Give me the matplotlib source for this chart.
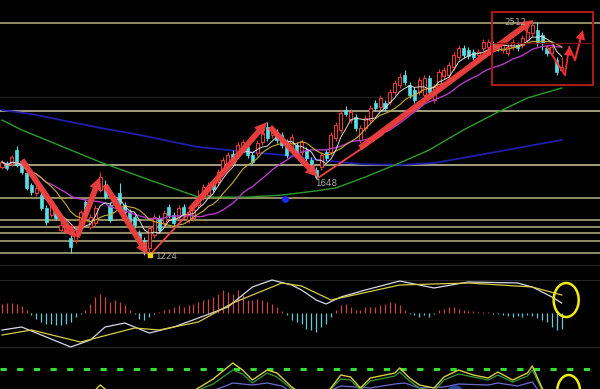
import numpy as np
import matplotlib
matplotlib.use("Agg")
import matplotlib.pyplot as plt
import pandas as pd
from matplotlib.patches import Rectangle, Ellipse, FancyArrowPatch, ArrowStyle

plt.rcParams['lines.scale_dashes'] = False

# ---------------- data ----------------
opens = [1706, 1728, 1722, 1799, 1728, 1673, 1607, 1563, 1552, 1481,
         1443, 1470, 1361, 1355, 1317, 1306, 1377, 1514, 1377, 1399,
         1580, 1607, 1498, 1498, 1563, 1498, 1459, 1432, 1344, 1306,
         1262, 1333, 1426, 1399, 1487, 1443, 1432, 1487, 1415, 1426,
         1498, 1541, 1552, 1607, 1624, 1689, 1717, 1777, 1772, 1810,
         1816, 1772, 1783, 1843, 1925, 1881, 1898, 1881, 1843, 1799,
         1826, 1788, 1799, 1744, 1689, 1706, 1788, 1788, 1865, 1909,
         2018, 1963, 1980, 1854, 1920, 1963, 2057, 2035, 2057, 2062,
         2117, 2155, 2210, 2155, 2128, 2117, 2100, 2194, 2073, 2139,
         2205, 2210, 2254, 2309, 2358, 2347, 2336, 2320, 2358, 2363,
         2380, 2374, 2347, 2331, 2363, 2374, 2374, 2402, 2440, 2457,
         2429, 2358, 2331, 2292, 2237]
closes = [1733, 1700, 1761, 1717, 1678, 1591, 1569, 1591, 1481, 1404,
          1509, 1426, 1388, 1383, 1267, 1361, 1459, 1443, 1432, 1481,
          1651, 1541, 1415, 1536, 1509, 1459, 1404, 1388, 1306, 1246,
          1372, 1432, 1361, 1454, 1443, 1399, 1481, 1443, 1459, 1470,
          1541, 1596, 1607, 1585, 1678, 1744, 1772, 1744, 1826, 1843,
          1772, 1733, 1837, 1892, 1865, 1909, 1854, 1826, 1772, 1870,
          1783, 1843, 1755, 1689, 1651, 1772, 1755, 1881, 1936, 2002,
          1996, 2007, 1920, 1920, 1974, 2029, 2029, 2084, 2029, 2117,
          2166, 2199, 2172, 2100, 2073, 2183, 2194, 2117, 2144, 2226,
          2237, 2265, 2320, 2358, 2320, 2314, 2309, 2336, 2391, 2391,
          2363, 2358, 2374, 2363, 2391, 2358, 2413, 2446, 2484, 2385,
          2385, 2331, 2363, 2226, 2254]
highs = [1744, 1739, 1772, 1821, 1744, 1684, 1618, 1607, 1569, 1498,
         1525, 1487, 1404, 1399, 1333, 1372, 1470, 1530, 1448, 1498,
         1678, 1635, 1514, 1552, 1618, 1514, 1476, 1448, 1361, 1322,
         1388, 1448, 1443, 1470, 1503, 1459, 1498, 1503, 1476, 1492,
         1580, 1613, 1624, 1624, 1695, 1761, 1788, 1799, 1843, 1859,
         1832, 1788, 1854, 1909, 1952, 1925, 1914, 1898, 1859, 1887,
         1843, 1859, 1816, 1761, 1706, 1788, 1805, 1898, 1952, 2018,
         2040, 2024, 1996, 1936, 1991, 2046, 2073, 2100, 2073, 2133,
         2183, 2221, 2237, 2172, 2144, 2199, 2210, 2210, 2161, 2243,
         2254, 2281, 2336, 2374, 2374, 2363, 2352, 2352, 2407, 2407,
         2396, 2391, 2391, 2380, 2407, 2391, 2429, 2462, 2511, 2500,
         2446, 2374, 2380, 2309, 2309]
lows = [1695, 1689, 1711, 1706, 1667, 1580, 1552, 1547, 1470, 1388,
        1432, 1415, 1350, 1344, 1235, 1289, 1361, 1426, 1366, 1383,
        1569, 1530, 1404, 1481, 1492, 1448, 1393, 1372, 1289, 1224,
        1240, 1317, 1344, 1383, 1426, 1383, 1415, 1426, 1399, 1410,
        1481, 1525, 1536, 1569, 1607, 1673, 1700, 1728, 1755, 1794,
        1755, 1717, 1766, 1826, 1848, 1865, 1837, 1810, 1755, 1783,
        1766, 1772, 1739, 1678, 1640, 1689, 1739, 1772, 1848, 1892,
        1985, 1947, 1903, 1837, 1903, 1947, 2013, 2018, 2013, 2046,
        2100, 2139, 2155, 2084, 2057, 2100, 2084, 2100, 2057, 2122,
        2188, 2194, 2237, 2292, 2303, 2298, 2292, 2303, 2341, 2347,
        2347, 2341, 2331, 2314, 2347, 2341, 2358, 2385, 2424, 2369,
        2347, 2314, 2320, 2210, 2232]

# long moving averages (candle index, price)
ma60_idx = [0, 4, 10, 20, 30, 40, 50, 57, 64, 68, 74, 81, 87, 94, 101, 107, 114]
ma60_val = [1963, 1909, 1843, 1733, 1635, 1541, 1541, 1552, 1575, 1591, 1651,
            1728, 1799, 1909, 2007, 2084, 2139]
ma120_idx = [0, 6, 13, 20, 27, 34, 40, 48, 57, 65, 73, 81, 88, 95, 105, 114]
ma120_val = [2018, 1996, 1958, 1920, 1887, 1848, 1815, 1794, 1772, 1744, 1722,
             1717, 1728, 1761, 1810, 1854]

# horizontal support / resistance levels
levels = [2495, 2013, 1717, 1536, 1415, 1377, 1344, 1300, 1235]
dark_level = 2089

# MACD panel
macd_hist = [9, 10, 10, 9, 7, 3, -2, -6, -9, -11, -11, -12, -12, -11, -9, -4, -1,
             3, 9, 16, 19, 16, 11, 13, 11, 8, 3, -1, -6, -7, -4, -1, 1, 3, 4,
             6, 8, 6, 8, 9, 11, 13, 14, 16, 19, 23, 21, 19, 23, 18, 13, 13, 14,
             13, 11, 9, 6, 2, -2, -7, -9, -11, -16, -17, -19, -14, -11, -4, 3,
             8, 9, 6, 3, 3, 6, 6, 6, 8, 9, 11, 10, 8, 3, -1, -2, -4, -2, -4, -1,
             3, 4, 6, 6, 4, 3, 2, 2, 1, 1, 1, -1, -1, -2, -3, -4, -3, -4, -2, -3,
             -5, -7, -9, -14, -17, -16]
dif_idx = [0, 4, 8, 14, 18, 21, 25, 30, 35, 40, 46, 51, 55, 59, 61, 64, 66, 69,
           74, 81, 88, 95, 105, 108, 112, 114]
dif_val = [-17, -14, -22, -34, -27, -14, -10, -20, -14, -5, 6, 26, 33, 28, 23, 13,
           9, 16, 23, 32, 25, 31, 30, 26, 16, 10]
dea_idx = [0, 6, 16, 27, 32, 40, 47, 57, 61, 67, 81, 95, 108, 114]
dea_val = [-22, -17, -29, -15, -17, -9, 10, 30, 27, 13, 28, 30, 26, 18]

# lower indicator panel
k_idx = [0, 18, 19, 20, 21, 22, 38, 40, 43, 47, 49, 51, 54, 56, 59, 61, 66, 67, 69,
         71, 73, 75, 80, 81, 83, 85, 88, 90, 93, 96, 99, 101, 104, 107, 108, 110, 111, 114]
k_val = [-30, -15, -3, 12, 0, -15, -15, 3, 30, 78, 57, 27, 57, 48, 6, -15, -15, 3, 42,
         36, 3, 33, 48, 63, 33, 12, 3, 36, 57, 42, 33, 51, 27, 48, 69, 3, -20, -30]
d_idx = [38, 40, 43, 47, 49, 51, 54, 56, 59, 62, 66, 69, 71, 73, 75, 80, 81, 83, 85,
         88, 90, 93, 96, 99, 101, 104, 107, 108, 110, 112]
d_val = [-15, -3, 15, 57, 45, 18, 48, 36, 0, -15, -15, 30, 27, -3, 24, 39, 51, 24, 3,
         -6, 27, 45, 36, 27, 42, 21, 39, 57, -3, -20]
j_idx = [38, 40, 45, 47, 51, 54, 57, 59, 66, 69, 72, 75, 80, 82, 85, 90, 93, 99, 101,
         105, 108, 110]
j_val = [-20, -20, 6, 18, 12, 18, 9, -10, -10, 9, 6, 3, 15, 18, 3, 6, 15, 12, 18, 9,
         21, -20]
signal_level = 60

# annotations (candle index, price)
arrows_thick = [((4.07, 1744), (14.87, 1317)),
                ((15.27, 1322), (19.96, 1651)),
                ((20.98, 1607), (29.74, 1224)),
                ((38.29, 1470), (53.97, 1952)),
                ((54.58, 1925), (64.36, 1651)),
                ((72.9, 1810), (108.1, 2511))]
lines_thin = [((30.14, 1224), (39.6, 1500)),
              ((64.36, 1646), (77.5, 1884))]
v_path_idx = [111.0, 114.66, 115.5]
v_path_val = [2363, 2210, 2363]
v2_path_idx = [115.5, 116.7, 118.3]
v2_path_val = [2363, 2292, 2457]

n = len(closes)
x = np.arange(n)
RED = '#e23a3a'
CYAN = '#58dce6'
BG = '#000000'

fig = plt.figure(figsize=(6.0, 3.89), dpi=100, facecolor=BG)
ax = fig.add_axes([0, 129 / 389, 1, 260 / 389])
axm = fig.add_axes([0, 34 / 389, 1, 95 / 389])
axk = fig.add_axes([0, 0, 1, 34 / 389])
xl = (-0.407, 121.79)
for a in (ax, axm, axk):
    a.set_facecolor(BG)
    a.set_xlim(*xl)
    a.axis('off')
ax.set_ylim(1196.2, 2621)
axm.set_ylim(-42, 53)
axk.set_ylim(0, 102)

# levels
for lv in levels:
    col = '#cfc9a0' if lv in (2013, 1717) else '#b8b27c'
    ax.axhline(lv, color=col, lw=1.1, zorder=1)
ax.axhline(dark_level, color='#1e1e1e', lw=1.0, zorder=1)

# long MAs
ax.plot(ma120_idx, ma120_val, color='#1f1fa8', lw=1.3, zorder=2)
ax.plot(ma60_idx, ma60_val, color='#2c9c2c', lw=1.0, zorder=2)

# candles
o = np.array(opens, float); c = np.array(closes, float)
h = np.array(highs, float); l = np.array(lows, float)
up = c >= o
ax.vlines(x[up], l[up], h[up], color=RED, lw=0.8, zorder=3)
ax.vlines(x[~up], l[~up], h[~up], color=CYAN, lw=0.8, zorder=3)
body_lo = np.minimum(o, c)
body_h = np.maximum(np.abs(c - o), 4)
ax.bar(x[up], body_h[up], bottom=body_lo[up], width=0.62, facecolor='#000000',
       edgecolor=RED, lw=0.8, zorder=4)
ax.bar(x[~up], body_h[~up], bottom=body_lo[~up], width=0.62, facecolor=CYAN,
       edgecolor=CYAN, lw=0.5, zorder=4)

# short MAs
cs = pd.Series(closes, dtype=float)
ax.plot(x, cs.rolling(20, min_periods=1).mean(), color='#b23cc4', lw=1.0, zorder=5)
ax.plot(x, cs.rolling(10, min_periods=1).mean(), color='#c8ae34', lw=0.8, zorder=5)
ax.plot(x, cs.rolling(5, min_periods=1).mean(), color='#dcdcdc', lw=0.7, zorder=5)

# red annotations
for (a0, a1) in lines_thin:
    ax.plot([a0[0], a1[0]], [a0[1], a1[1]], color='#f04444', lw=1.3, zorder=6)
for (a0, a1) in arrows_thick:
    ax.add_patch(FancyArrowPatch(a0, a1, arrowstyle=ArrowStyle.Simple(
        head_length=9, head_width=9, tail_width=4.2), mutation_scale=1,
        color='#f04040', lw=0, shrinkA=0, shrinkB=0, zorder=7, alpha=0.95))
ax.plot(v_path_idx[:2], v_path_val[:2], color='#f03030', lw=1.4, zorder=7)
ax.add_patch(FancyArrowPatch((v_path_idx[1], v_path_val[1]), (v_path_idx[2], v_path_val[2]),
                             arrowstyle=ArrowStyle.Simple(head_length=6, head_width=6, tail_width=1.3),
                             mutation_scale=1, color='#f03030', lw=0, shrinkA=0, shrinkB=0, zorder=7))
ax.plot(v2_path_idx[:2], v2_path_val[:2], color='#f03030', lw=1.4, zorder=7)
ax.add_patch(FancyArrowPatch((v2_path_idx[1], v2_path_val[1]), (v2_path_idx[2], v2_path_val[2]),
                             arrowstyle=ArrowStyle.Simple(head_length=7, head_width=7, tail_width=1.5),
                             mutation_scale=1, color='#f03030', lw=0, shrinkA=0, shrinkB=0, zorder=7))

# red box
ax.add_patch(Rectangle((99.8, 2155), 20.6, 400, fill=False, edgecolor='#b01a1a', lw=1.4, zorder=8))
ax.plot([99.8, 120.4], [2385, 2385], color='#7a1414', lw=1.0, zorder=8)

# labels
ax.text(104.5, 2495, '2512', color='#a8a8a0', fontsize=6.3, ha='center', va='center', zorder=9)
ax.text(66, 1613, '1648', color='#a8a8a8', fontsize=6.3, ha='center', va='center', zorder=9)
ax.text(33.4, 1218, '1224', color='#a8a8a8', fontsize=6.3, ha='center', va='center', zorder=9)
ax.plot([30.1], [1224], marker='s', ms=3.5, color='#f0d000', zorder=9)
ax.plot([57.6], [1531], marker='o', ms=4, color='#1a2af0', zorder=9)

# MACD panel
for gv in (48, 33, -34):
    axm.axhline(gv, color='#262626', lw=0.8, zorder=1)
hist = np.array(macd_hist, float)
axm.vlines(x[hist > 0], 0, hist[hist > 0], color='#c84848', lw=0.9, zorder=2)
axm.vlines(x[hist <= 0], hist[hist <= 0], 0, color='#6cc8d0', lw=0.9, zorder=2)
axm.plot(dif_idx, dif_val, color='#d8d8e8', lw=0.9, zorder=3)
axm.plot(dea_idx, dea_val, color='#d8cc48', lw=0.9, zorder=3)
axm.add_patch(Ellipse((114.9, 13), 5.1, 34, fill=False, edgecolor='#f0ec10', lw=1.8, zorder=4))

# lower panel
axk.axhline(signal_level, color='#33dd33', lw=2.2, dashes=(4.5, 7.5), zorder=2)
axk.plot(j_idx, j_val, color='#6a6ad0', lw=0.9, zorder=3)
axk.plot(d_idx, d_val, color='#3a9a3a', lw=0.9, zorder=3)
axk.plot(k_idx, k_val, color='#d8d040', lw=1.0, zorder=4)
axk.add_patch(Ellipse((92.3, -9), 2.9, 36, color='#2a4a9a', zorder=3))
axk.add_patch(Ellipse((115.4, -9), 4.7, 102, fill=False, edgecolor='#f0ec10', lw=1.8, zorder=5))

fig.savefig('out.png', dpi=100, facecolor=BG)
